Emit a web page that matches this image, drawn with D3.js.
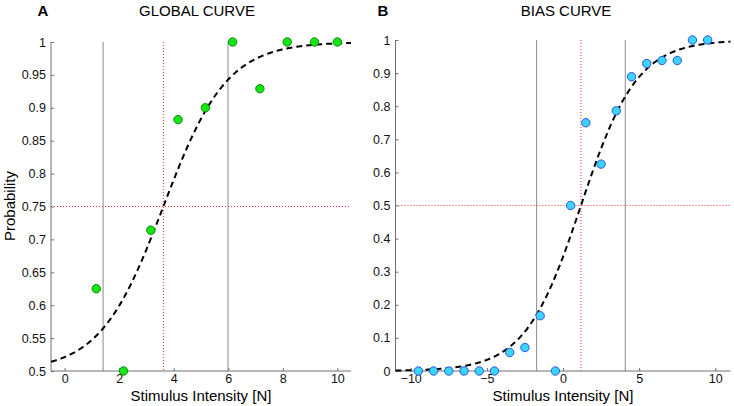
<!DOCTYPE html>
<html><head><meta charset="utf-8">
<script src="https://cdn.jsdelivr.net/npm/d3@7"></script>
<style>body{margin:0;background:#fff}svg{display:block;font-family:"Liberation Sans",Arial,sans-serif}</style>
</head><body><svg id="c" width="734" height="406"></svg>
<script>
// ---- data ----
const globalX = [1.16, 2.16, 3.16, 4.16, 5.16, 6.16, 7.16, 8.16, 9.16, 10];
const globalP = [0.625, 0.5, 0.714, 0.882, 0.9, 1, 0.929, 1, 1, 1];
const globalFit = [3.62, 1.16, 0.5];      // threshold, spread, guess rate
const globalCI = [1.41, 5.99];
const globalThreshold = 3.62, globalCriterion = 0.75;
const globalXTicks = [0, 2, 4, 6, 8, 10];
const globalYTicks = [0.5, 0.55, 0.6, 0.65, 0.7, 0.75, 0.8, 0.85, 0.9, 0.95, 1];

const biasX = [-9.5, -8.5, -7.5, -6.5, -5.5, -4.5, -3.5, -2.5, -1.5, -0.5, 0.5, 1.5, 2.5, 3.5, 4.5, 5.5, 6.5, 7.5, 8.5, 9.5];
const biasP = [0, 0, 0, 0, 0, 0, 0.056, 0.071, 0.167, 0, 0.5, 0.75, 0.625, 0.786, 0.889, 0.929, 0.938, 0.938, 1, 1];
const biasFit = [1.18, 1.84, 0];
const biasCI = [-1.73, 4.09];
const biasThreshold = 1.18, biasCriterion = 0.5;
const biasXTicks = [-10, -5, 0, 5, 10];
const biasYTicks = [0, 0.1, 0.2, 0.3, 0.4, 0.5, 0.6, 0.7, 0.8, 0.9, 1];

const svg = d3.select("#c");

function panel(o) {
  const x = d3.scaleLinear().domain(o.xDom).range([o.x0, o.x1]);
  const y = d3.scaleLinear().domain(o.yDom).range([o.y1, o.y0]);
  const g = svg.append("g");
  // CI lines
  o.ci.forEach(v => g.append("line").attr("x1", x(v)).attr("x2", x(v)).attr("y1", o.y0).attr("y2", o.y1)
    .attr("stroke", "#8a8a8a").attr("stroke-width", 1));
  // threshold
  g.append("line").attr("x1", x(o.thr)).attr("x2", x(o.thr)).attr("y1", o.y0).attr("y2", o.y1)
    .attr("stroke", "#f03030").attr("stroke-width", 1).attr("stroke-dasharray", "1,2");
  g.append("line").attr("x1", o.x0).attr("x2", o.x1).attr("y1", y(o.crit)).attr("y2", y(o.crit))
    .attr("stroke", "#f03030").attr("stroke-width", 1).attr("stroke-dasharray", "1,2");
  // axes
  const xa = d3.axisBottom(x).tickValues(o.xTicks).tickSize(-3).tickPadding(3).tickFormat(d3.format("d"));
  const ya = d3.axisLeft(y).tickValues(o.yTicks).tickSize(-3).tickPadding(5).tickFormat(d => String(+d.toFixed(2)));
  const gx = g.append("g").attr("transform", `translate(0,${o.y1})`).call(xa);
  const gy = g.append("g").attr("transform", `translate(${o.x0},0)`).call(ya);
  [gx, gy].forEach(a => {
    a.selectAll(".tick line").attr("stroke", "#707070");
    a.selectAll(".tick text").attr("fill", "#111").style("font-size", "12.5px");
  });
  gx.select(".domain").attr("stroke", "#707070").attr("d", `M${o.x0},0H${o.x1}`);
  gy.select(".domain").attr("stroke", "#707070").attr("d", `M0,${o.y0}V${o.y1}`);
  gx.selectAll(".tick text").attr("dy", "0.7em");
  // curve
  const f = o.fit;
  const fn = v => f[2] + (1 - f[2]) / (1 + Math.exp(-(v - f[0]) / f[1]));
  const xs = d3.range(o.xDom[0], o.xDom[1] + 1e-9, (o.xDom[1] - o.xDom[0]) / 300);
  g.append("path").datum(xs)
    .attr("d", d3.line().x(v => x(v)).y(v => y(fn(v))))
    .attr("fill", "none").attr("stroke", "#000").attr("stroke-width", 2).attr("stroke-dasharray", "6,4");
  // points
  g.selectAll("circle.p").data(o.xs.map((v, i) => [v, o.ps[i]])).join("circle")
    .attr("cx", d => x(d[0])).attr("cy", d => y(d[1])).attr("r", 4.2)
    .attr("fill", o.fill).attr("stroke", o.stroke).attr("stroke-width", 1);
  // titles
  svg.append("text").attr("x", o.letterX).attr("y", 16).attr("font-weight", "bold").attr("font-size", 15)
    .attr("text-anchor", "middle").text(o.letter);
  svg.append("text").attr("x", o.titleX).attr("y", 16).attr("font-size", 15)
    .attr("text-anchor", "middle").text(o.title);
  svg.append("text").attr("x", (o.x0 + o.x1) / 2).attr("y", 401).attr("font-size", 15)
    .attr("text-anchor", "middle").text("Stimulus Intensity [N]");
}

panel({xDom: [-0.5, 10.5], yDom: [0.5, 1], x0: 51, x1: 351, y0: 42, y1: 371,
  ci: globalCI, thr: globalThreshold, crit: globalCriterion, xTicks: globalXTicks, yTicks: globalYTicks,
  fit: globalFit, xs: globalX, ps: globalP, fill: "#14e614", stroke: "#0a8a0a",
  letter: "A", letterX: 43, title: "GLOBAL CURVE", titleX: 197});
panel({xDom: [-11, 11], yDom: [0, 1], x0: 395.5, x1: 730.5, y0: 40, y1: 371,
  ci: biasCI, thr: biasThreshold, crit: biasCriterion, xTicks: biasXTicks, yTicks: biasYTicks,
  fit: biasFit, xs: biasX, ps: biasP, fill: "#3dd2ff", stroke: "#2a5ad8",
  letter: "B", letterX: 383, title: "BIAS CURVE", titleX: 566});

svg.append("text").attr("transform", "translate(15,206) rotate(-90)").attr("font-size", 15)
  .attr("text-anchor", "middle").text("Probability");
</script></body></html>
